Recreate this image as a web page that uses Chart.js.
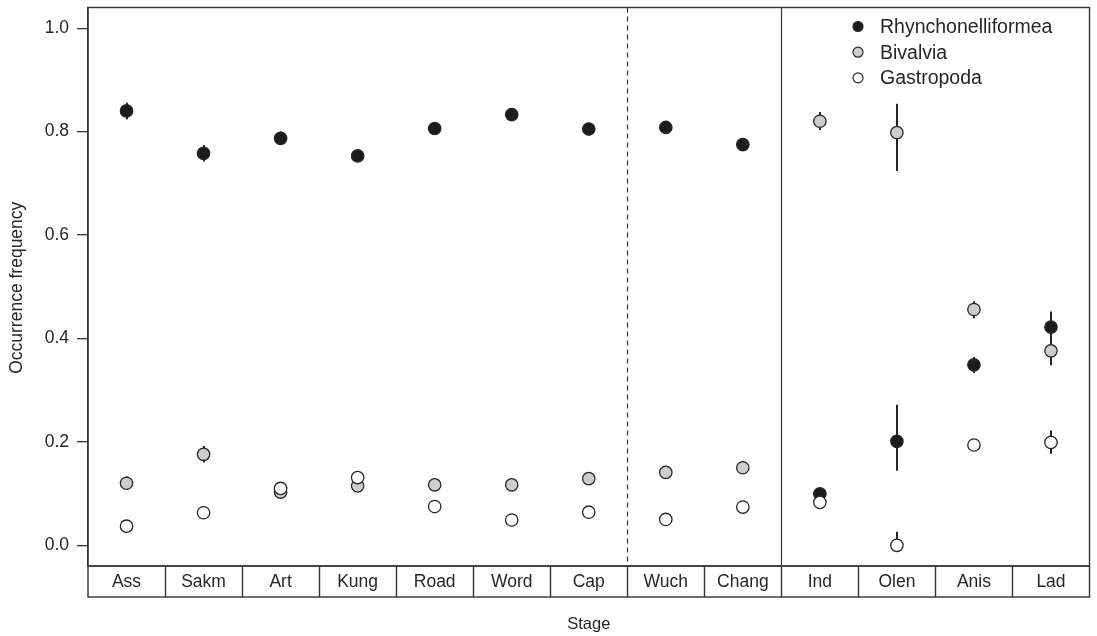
<!DOCTYPE html>
<html>
<head>
<meta charset="utf-8">
<script src="https://cdn.jsdelivr.net/npm/chart.js@4/dist/chart.umd.min.js"></script>
<style>
  html, body { margin: 0; padding: 0; background: #fff; }
  #wrap { width: 1097px; height: 636px; }
</style>
</head>
<body>
<div id="wrap"><canvas id="c" width="1097" height="636"></canvas></div>
<script>
// Stages (Permian to Middle Triassic)
const stages = ['Ass', 'Sakm', 'Art', 'Kung', 'Road', 'Word', 'Cap', 'Wuch', 'Chang', 'Ind', 'Olen', 'Anis', 'Lad'];

// Rhynchonelliformea occurrence frequency with interval bounds
const rhyn   = [0.840, 0.758, 0.787, 0.753, 0.806, 0.833, 0.805, 0.808, 0.775, 0.0995, 0.201, 0.349, 0.422];
const rhynLo = [0.824, 0.742, 0.774, 0.745, 0.798, 0.825, 0.797, 0.800, 0.767, 0.090, 0.144, 0.333, 0.395];
const rhynHi = [0.856, 0.774, 0.800, 0.761, 0.814, 0.841, 0.813, 0.816, 0.783, 0.112, 0.272, 0.364, 0.452];

// Bivalvia
const biv   = [0.120, 0.176, 0.103, 0.115, 0.117, 0.117, 0.129, 0.141, 0.150, 0.820, 0.798, 0.456, 0.376];
const bivLo = [0.107, 0.160, 0.095, 0.107, 0.109, 0.109, 0.121, 0.133, 0.142, 0.803, 0.724, 0.439, 0.348];
const bivHi = [0.133, 0.192, 0.111, 0.123, 0.125, 0.125, 0.137, 0.149, 0.158, 0.838, 0.854, 0.472, 0.400];

// Gastropoda
const gas   = [0.037, 0.063, 0.110, 0.131, 0.075, 0.049, 0.064, 0.050, 0.074, 0.083, 0.000, 0.194, 0.199];
const gasLo = [0.030, 0.056, 0.103, 0.124, 0.068, 0.042, 0.057, 0.043, 0.067, 0.076, 0.000, 0.186, 0.177];
const gasHi = [0.044, 0.070, 0.117, 0.138, 0.082, 0.056, 0.071, 0.057, 0.081, 0.090, 0.026, 0.202, 0.222];

const yTicks = [0.0, 0.2, 0.4, 0.6, 0.8, 1.0];
const seriesNames = ['Rhynchonelliformea', 'Bivalvia', 'Gastropoda'];
const seriesFill  = ['#1c1c1c', '#cdcdcd', '#ffffff'];

// Boundaries drawn after these stages
const dashedAfter = 'Cap';
const solidAfter  = 'Chang';

const FONT = '"Liberation Sans", Arial, Helvetica, sans-serif';
const INK = '#262626';

const toPoints = vals => vals.map((v, i) => ({ x: i + 1, y: v }));
const bounds = [[rhynLo, rhynHi], [bivLo, bivHi], [gasLo, gasHi]];

const datasets = [rhyn, biv, gas].map((vals, k) => ({
  label: seriesNames[k],
  data: toPoints(vals),
  backgroundColor: seriesFill[k],
  borderColor: INK,
  borderWidth: 1.3,
  pointRadius: 6.2,
  pointHoverRadius: 6.2,
  showLine: false,
  order: 3 - k
}));

const decor = {
  id: 'decor',
  beforeDatasetsDraw(chart) {
    const { ctx, chartArea: a, scales: { x, y } } = chart;
    ctx.save();
    // error bars
    ctx.strokeStyle = INK;
    ctx.lineWidth = 2;
    ctx.lineCap = 'butt';
    bounds.forEach(([lo, hi]) => {
      lo.forEach((l, i) => {
        const px = Math.round(x.getPixelForValue(i + 1));
        ctx.beginPath();
        ctx.moveTo(px, y.getPixelForValue(l));
        ctx.lineTo(px, y.getPixelForValue(hi[i]));
        ctx.stroke();
      });
    });
    // period boundaries
    ctx.lineWidth = 1.2;
    ctx.strokeStyle = '#333';
    const dx = Math.round(x.getPixelForValue(stages.indexOf(dashedAfter) + 1.5)) + 0.5;
    ctx.setLineDash([5, 4]);
    ctx.beginPath(); ctx.moveTo(dx, a.top); ctx.lineTo(dx, a.bottom); ctx.stroke();
    ctx.setLineDash([]);
    const sx = Math.round(x.getPixelForValue(stages.indexOf(solidAfter) + 1.5)) + 0.5;
    ctx.beginPath(); ctx.moveTo(sx, a.top); ctx.lineTo(sx, a.bottom); ctx.stroke();
    ctx.restore();
  },
  afterDraw(chart) {
    const { ctx, chartArea: a, scales: { x } } = chart;
    ctx.save();
    // plot frame
    ctx.strokeStyle = '#333';
    ctx.lineWidth = 1.4;
    ctx.strokeRect(a.left, a.top, a.right - a.left, a.bottom - a.top);
    // stage strip
    const top = a.bottom, bot = a.bottom + 31;
    ctx.strokeRect(a.left, top, a.right - a.left, bot - top);
    ctx.lineWidth = 1.4;
    for (let i = 1; i < stages.length; i++) {
      const px = Math.round(x.getPixelForValue(i + 0.5)) + 0.5;
      ctx.beginPath(); ctx.moveTo(px, top); ctx.lineTo(px, bot); ctx.stroke();
    }
    ctx.fillStyle = INK;
    ctx.font = '17.5px ' + FONT;
    ctx.textAlign = 'center';
    ctx.textBaseline = 'middle';
    stages.forEach((s, i) => ctx.fillText(s, x.getPixelForValue(i + 1), (top + bot) / 2 + 1));
    // axis titles
    ctx.font = '16.5px ' + FONT;
    ctx.fillText('Stage', (a.left + a.right) / 2, 624);
    ctx.font = '17.5px ' + FONT;
    ctx.translate(17, (a.top + a.bottom) / 2 + 1);
    ctx.rotate(-Math.PI / 2);
    ctx.fillText('Occurrence frequency', 0, 0);
    ctx.setTransform(1, 0, 0, 1, 0, 0);
    // legend
    ctx.textAlign = 'left';
    ctx.font = '19.5px ' + FONT;
    seriesNames.forEach((n, k) => {
      const cy = 26.5 + k * 25.7;
      ctx.beginPath();
      ctx.arc(858, cy, 5, 0, Math.PI * 2);
      ctx.fillStyle = seriesFill[k];
      ctx.fill();
      ctx.lineWidth = 1.2;
      ctx.strokeStyle = INK;
      ctx.stroke();
      ctx.fillStyle = INK;
      ctx.fillText(n, 880, cy + 1);
    });
    ctx.restore();
  }
};

new Chart(document.getElementById('c'), {
  type: 'scatter',
  data: { datasets },
  options: {
    responsive: false,
    devicePixelRatio: 1,
    animation: false,
    layout: { padding: { top: 3, right: 6, bottom: 70, left: 0 } },
    plugins: { legend: { display: false }, tooltip: { enabled: false } },
    scales: {
      x: { type: 'linear', min: 0.5, max: stages.length + 0.5, display: false },
      y: {
        type: 'linear',
        min: -0.04,
        max: 1.04,
        afterBuildTicks: s => { s.ticks = yTicks.map(v => ({ value: v })); },
        afterFit: s => { s.width = 88; s.paddingTop = 0; s.paddingBottom = 0; },
        ticks: {
          callback: v => Number(v).toFixed(1),
          font: { family: FONT, size: 17.5 },
          color: INK,
          padding: 8
        },
        grid: { drawOnChartArea: false, drawTicks: true, tickLength: 11, color: '#333', lineWidth: 1.3 },
        border: { display: true, color: '#333', width: 1.4 }
      }
    }
  },
  plugins: [decor]
});
</script>
</body>
</html>
